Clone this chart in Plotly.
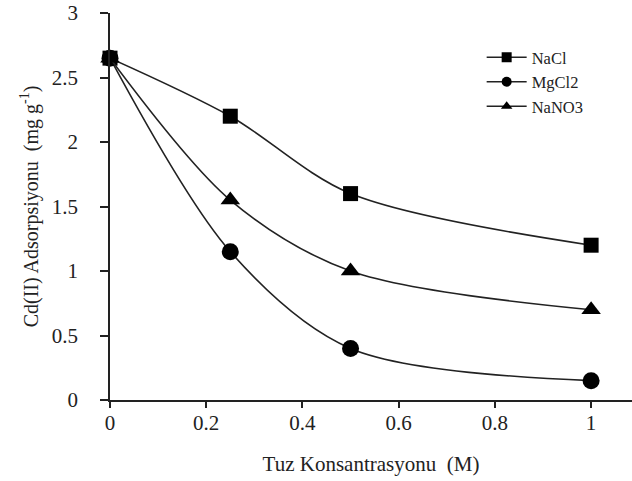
import plotly.graph_objects as go

# Salt concentration (M) and Cd(II) adsorption (mg g-1) for each salt
konsantrasyon = [0, 0.25, 0.5, 1.0]
nacl = [2.65, 2.20, 1.60, 1.20]
mgcl2 = [2.65, 1.15, 0.40, 0.15]
nano3 = [2.65, 1.55, 1.00, 0.70]

x_ticks = [0, 0.2, 0.4, 0.6, 0.8, 1]
x_tick_labels = ["0", "0.2", "0.4", "0.6", "0.8", "1"]
y_ticks = [0, 0.5, 1, 1.5, 2, 2.5, 3]
y_tick_labels = ["0", "0.5", "1", "1.5", "2", "2.5", "3"]

serif = "Liberation Serif"
ink = "#222222"

series = [
    ("NaCl", nacl, "square", 15),
    ("MgCl2", mgcl2, "circle", 17),
    ("NaNO3", nano3, "triangle-up", 17),
]

fig = go.Figure()
for name, values, symbol, size in series:
    # curve with full-size markers on the plot
    fig.add_trace(go.Scatter(
        x=konsantrasyon,
        y=values,
        name=name,
        mode="lines+markers",
        line=dict(color=ink, width=1.6, shape="spline", smoothing=0.9),
        marker=dict(symbol=symbol, size=size, color="black"),
        cliponaxis=False,
        showlegend=False,
    ))
    # legend key with smaller marker glyph
    fig.add_trace(go.Scatter(
        x=[None],
        y=[None],
        name=name,
        mode="lines+markers",
        line=dict(color=ink, width=1.6),
        marker=dict(symbol=symbol, size=10, color="black"),
        showlegend=True,
    ))

fig.update_layout(
    width=632,
    height=481,
    margin=dict(l=110, r=0, t=13, b=81),
    paper_bgcolor="white",
    plot_bgcolor="white",
    font=dict(family=serif, color=ink),
    showlegend=True,
    legend=dict(
        x=0.712, y=0.93, xanchor="left", yanchor="top",
        font=dict(family=serif, size=16.5, color=ink),
        bgcolor="rgba(0,0,0,0)",
        itemwidth=40,
    ),
    xaxis=dict(
        range=[0, 1.085],
        tickvals=x_ticks,
        ticktext=x_tick_labels,
        ticks="outside",
        ticklen=6,
        tickwidth=1.5,
        tickcolor=ink,
        showline=True,
        linecolor=ink,
        linewidth=1.6,
        showgrid=False,
        zeroline=False,
        ticklabelstandoff=-3,
        tickfont=dict(family=serif, size=21, color=ink),
        title=dict(text="Tuz Konsantrasyonu  (M)", standoff=22,
                   font=dict(family=serif, size=21, color=ink)),
    ),
    yaxis=dict(
        range=[0, 3],
        tickvals=y_ticks,
        ticktext=y_tick_labels,
        ticks="outside",
        ticklen=8,
        tickwidth=1.5,
        tickcolor=ink,
        showline=True,
        linecolor=ink,
        linewidth=1.6,
        showgrid=False,
        zeroline=False,
        ticklabelstandoff=18,
        tickfont=dict(family=serif, size=21, color=ink),
        title=dict(text="Cd(II) Adsorpsiyonu  (mg g<sup>-1</sup>)", standoff=8,
                   font=dict(family=serif, size=20, color=ink)),
    ),
)

fig.write_html("out.html")
